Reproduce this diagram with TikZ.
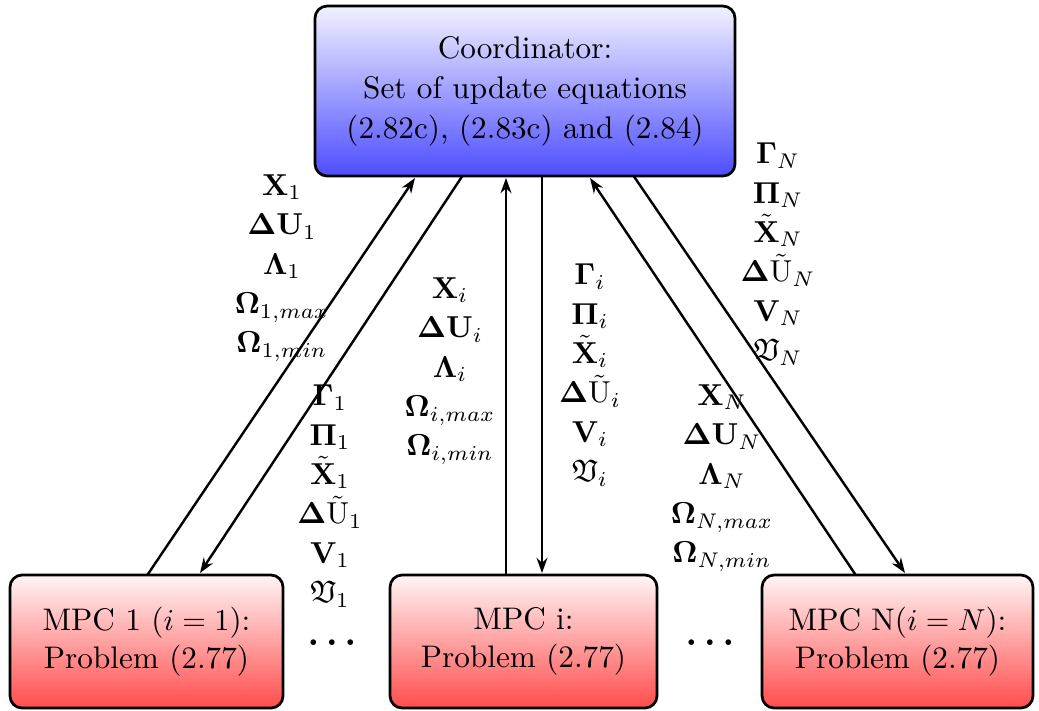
\documentclass[tikz,border=0pt]{standalone}
\usepackage{amsmath,amssymb}
\usetikzlibrary{arrows.meta}
\begin{document}
\begin{tikzpicture}[x=0.33pt,y=-0.33pt,
  box/.style={draw,line width=0.9pt,rounded corners=4pt,align=center,inner sep=0pt},
  coordbox/.style={box,top color=blue!5,bottom color=blue!70,minimum width=138.6pt,minimum height=56.1pt,font=\fontsize{10.3}{13.2}\selectfont},
  mpcbox/.style={box,top color=red!4,bottom color=red!70,minimum height=43.9pt,font=\fontsize{10.3}{12.5}\selectfont},
  lbl/.style={align=center,inner sep=0pt,font=\fontsize{10.3}{13}\selectfont},
  dotsnode/.style={inner sep=0pt,font=\fontsize{12.5}{14}\selectfont\boldmath},
  conn/.style={line width=0.8pt,-{Stealth[length=5pt,width=3.6pt]}}]
\useasboundingbox (0,0) rectangle (1039,710);
\node[coordbox] (coord) at (525,91) {Coordinator:\\Set of update equations\\(2.82c), (2.83c) and (2.84)};
\node[mpcbox,minimum width=90.1pt] (mpc1) at (146.5,641.5) {MPC 1 ($i=1$):\\Problem (2.77)};
\node[mpcbox,minimum width=88.1pt] (mpci) at (523.5,641.5) {MPC i:\\Problem (2.77)};
\node[mpcbox,minimum width=89.4pt] (mpcN) at (897.5,641.5) {MPC N($i=N$):\\Problem (2.77)};
% endpoints
\coordinate (a1s) at (147,575.5); \coordinate (a1e) at (415,178);
\coordinate (b1s) at (462,176.5); \coordinate (b1e) at (200,573);
\coordinate (a2s) at (506,575.5); \coordinate (a2e) at (506,178);
\coordinate (b2s) at (542,176.5); \coordinate (b2e) at (542,573);
\coordinate (a3s) at (856,575.5); \coordinate (a3e) at (590,178);
\coordinate (b3s) at (634,176.5); \coordinate (b3e) at (905,573);
\draw[conn] (a1s) -- (a1e);
\draw[conn] (b1s) -- (b1e);
\draw[conn] (a2s) -- (a2e);
\draw[conn] (b2s) -- (b2e);
\draw[conn] (a3s) -- (a3e);
\draw[conn] (b3s) -- (b3e);
% labels
\node[lbl] (lu) at (282,268) {$\mathbf{X}_1$\\$\mathbf{\Delta U}_1$\\$\mathbf{\Lambda}_1$\\$\mathbf{\Omega}_{1,max}$\\$\mathbf{\Omega}_{1,min}$};
\node[lbl] (ld) at (330,496) {$\mathbf{\Gamma}_1$\\$\mathbf{\Pi}_1$\\$\tilde{\mathbf{X}}_1$\\$\mathbf{\Delta}\tilde{\mathrm{U}}_1$\\$\mathbf{V}_1$\\$\mathfrak{V}_1$};
\node[lbl] (mu) at (450,371) {$\mathbf{X}_i$\\$\mathbf{\Delta U}_i$\\$\mathbf{\Lambda}_i$\\$\mathbf{\Omega}_{i,max}$\\$\mathbf{\Omega}_{i,min}$};
\node[lbl] (md) at (590,375) {$\mathbf{\Gamma}_i$\\$\mathbf{\Pi}_i$\\$\tilde{\mathbf{X}}_i$\\$\mathbf{\Delta}\tilde{\mathrm{U}}_i$\\$\mathbf{V}_i$\\$\mathfrak{V}_i$};
\node[lbl] (ru) at (722,478) {$\mathbf{X}_N$\\$\mathbf{\Delta U}_N$\\$\mathbf{\Lambda}_N$\\$\mathbf{\Omega}_{N,max}$\\$\mathbf{\Omega}_{N,min}$};
\node[lbl] (rd) at (778,254) {$\mathbf{\Gamma}_N$\\$\mathbf{\Pi}_N$\\$\tilde{\mathbf{X}}_N$\\$\mathbf{\Delta}\tilde{\mathrm{U}}_N$\\$\mathbf{V}_N$\\$\mathfrak{V}_N$};
\node[dotsnode] (dots1) at (332,643) {$\ldots$};
\node[dotsnode] (dots2) at (710,643) {$\ldots$};
\end{tikzpicture}
\end{document}
